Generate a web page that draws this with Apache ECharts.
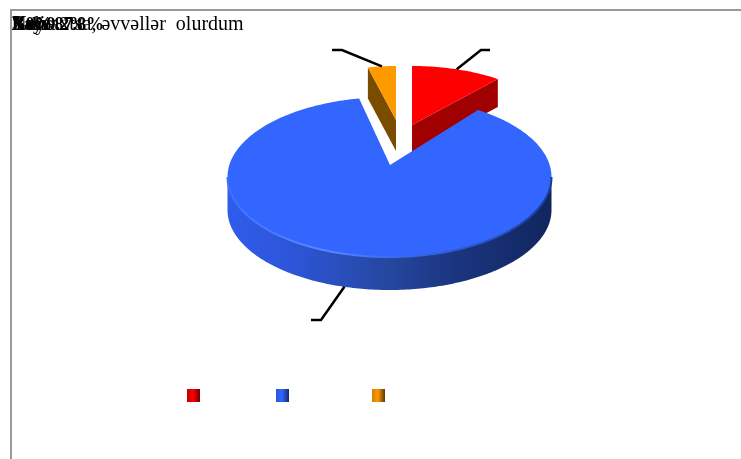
<!DOCTYPE html>
<html><head><meta charset="utf-8">
<style>html,body{margin:0;padding:0;background:#fff}#c{width:741px;height:459px}</style>
<script src="https://cdn.jsdelivr.net/npm/echarts@6/dist/echarts.min.js"></script>
</head><body><div id="c"></div>
<script>
const categories = ['Bəli', 'Xeyr', 'Nə vaxtsa, əvvəllər\u00a0 olurdum'];
const shares = [9.2, 87.8, 3.0];
const valueLabels = ['Bəli 9.2%', 'Xeyr 87.8%', '3.0%'];
const topColors = ['#ff0000', '#3366ff', '#ff9900'];
const sideColors = ['#a00000', null, '#7a4c00'];

const RY = 80;
const layouts = [
  {rx:157, apex:[412,125], centre:[412,146], depth:28, elbow:[481,50], end:[490,50], leadShift:0},
  {rx:162, apex:[390,165], centre:[389.5,177], depth:33, elbow:[321,320], end:[311,320], leadShift:5},
  {rx:150, apex:[396,120], centre:[396,146], depth:31, elbow:[342,50], end:[332,50], leadShift:0}
];
const swatches = [
  ['#c00000','#ff0000','#700000'],
  ['#2a55d8','#3366ff','#14296b'],
  ['#d08000','#ff9900','#5a3800']
];
const legendLeft = [187, 276, 372];

function sliceAngles(i){
  let a = -90;
  for (let k=0;k<i;k++) a += shares[k]*3.6;
  return [a, a+shares[i]*3.6];
}
function pt(L,t,dy){
  const r=t*Math.PI/180, c=L.centre;
  return [c[0]+L.rx*Math.cos(r), c[1]+RY*Math.sin(r)+(dy||0)];
}
function arc(L,a,b,dy){
  const p=[];const n=Math.max(4,Math.round(Math.abs(b-a)));
  for(let k=0;k<=n;k++)p.push(pt(L,a+(b-a)*k/n,dy));
  return p;
}
const linGrad=(stops)=>({type:'linear',x:0,y:0,x2:1,y2:0,colorStops:stops.map((s)=>({offset:s[0],color:s[1]}))});

function renderSlice(i){
  const L=layouts[i], ang=sliceAngles(i), kids=[];
  const face=[L.apex].concat(arc(L,ang[0],ang[1]));
  if(i===1){
    const side=arc(L,0,180).concat(arc(L,180,0,L.depth));
    kids.push({type:'polygon',shape:{points:side},style:{fill:linGrad([
      [0,'#2f5cec'],[0.2,'#2d55d8'],[0.5,'#25479f'],[0.7,'#1b3580'],[1,'#11265f']])}});
  } else {
    const edgeT = i===0 ? ang[1] : ang[0];
    const q=pt(L,edgeT);
    const side=[L.apex,q,[q[0],q[1]+L.depth],[L.apex[0],L.apex[1]+L.depth]];
    kids.push({type:'polygon',shape:{points:side},style:{fill:sideColors[i]}});
  }
  kids.push({type:'polygon',shape:{points:face},style:{fill:topColors[i]}});
  if(i===1){
    kids.push({type:'polyline',shape:{points:arc(L,180,0)},style:{fill:null,lineWidth:2,stroke:linGrad([
      [0,'#3d70ff'],[0.3,'#5a88ff'],[0.5,'#3d6cf0'],[0.8,'#2a52c0'],[1,'#1c3a90']])}});
  }
  const mid=(ang[0]+ang[1])/2+L.leadShift;
  const start=pt(L,mid,i===1?L.depth:0);
  kids.push({type:'polyline',shape:{points:[start,L.elbow,L.end]},style:{fill:null,stroke:'#000',lineWidth:2.5}});
  return {type:'group',children:kids};
}

const serif='"Liberation Serif","Times New Roman",serif';
const textEls=[];
categories.forEach((t)=>textEls.push({type:'text',left:12,top:15,style:{text:t,font:'20px '+serif,fill:'#000'}}));
valueLabels.forEach((t)=>textEls.push({type:'text',left:12,top:16,style:{text:t,font:'bold 18px '+serif,fill:'#000'}}));

const chart=echarts.init(document.getElementById('c'),null,{renderer:'canvas'});
chart.setOption({
  animation:false,
  backgroundColor:'#fff',
  legend:categories.map((name,i)=>({
    data:[{name,icon:'rect',itemStyle:{color:linGrad([[0,swatches[i][0]],[0.45,swatches[i][1]],[1,swatches[i][2]]])}}],
    left:legendLeft[i],top:389,padding:0,itemWidth:13,itemHeight:13,selectedMode:false,formatter:()=>''
  })),
  series:categories.map((name,i)=>({
    type:'custom',name,coordinateSystem:'none',silent:true,z:i===1?3:2,
    data:[[shares[i]]],
    renderItem:()=>renderSlice(i)
  })),
  graphic:[
    {type:'line',shape:{x1:11,y1:10,x2:11,y2:459},style:{stroke:'#999',lineWidth:2}},
    {type:'line',shape:{x1:10,y1:10,x2:741,y2:10},style:{stroke:'#999',lineWidth:2}}
  ].concat(textEls)
});
</script></body></html>
